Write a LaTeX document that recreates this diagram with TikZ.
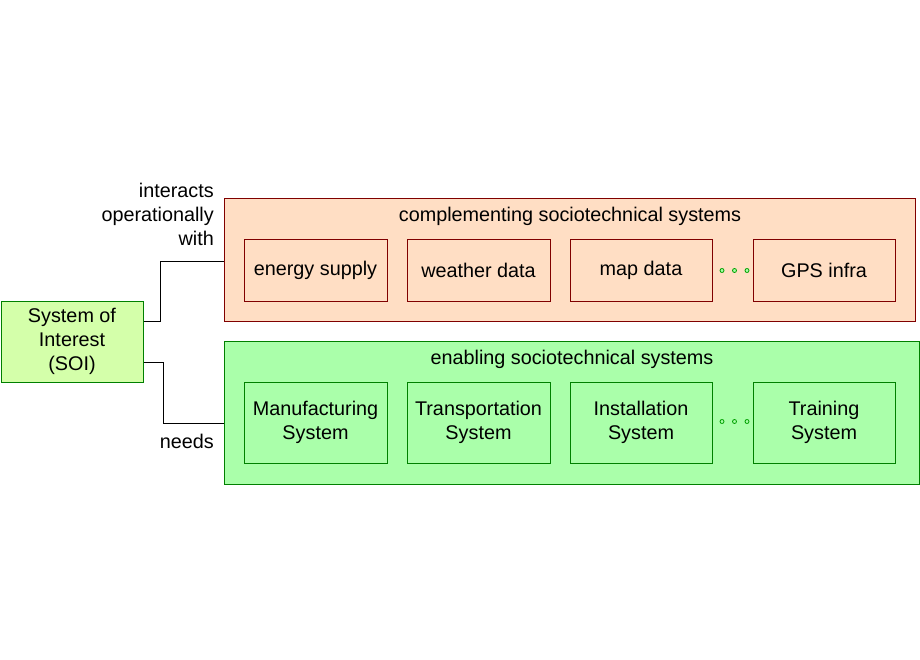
\documentclass[tikz,border=0pt]{standalone}
\usepackage{fontspec}
\setmainfont{Liberation Sans}
\definecolor{peach}{RGB}{255,222,196}
\definecolor{dred}{RGB}{128,0,0}
\definecolor{lgreen}{RGB}{170,255,170}
\definecolor{soigreen}{RGB}{212,255,170}
\definecolor{dgreen}{RGB}{0,128,0}
\definecolor{dotgreen}{RGB}{0,160,0}
\begin{document}
\begin{tikzpicture}[x=1pt,y=-1pt,
  every node/.style={font=\fontsize{19.8}{24}\selectfont, inner sep=0pt},
  cbox/.style={draw=dred, fill=peach, line width=1pt},
  ebox/.style={draw=dgreen, fill=lgreen, line width=1pt},
  sbox/.style={draw=dgreen, fill=soigreen, line width=1pt},
  conn/.style={draw=black, line width=1pt},
  dotc/.style={draw=dotgreen, fill=lgreen, line width=0.8pt}]
\useasboundingbox (0,0) rectangle (920,660);
% outer boxes
\draw[cbox] (224,199) rectangle (915,321);
\draw[ebox] (224,341) rectangle (919,484);
\node[anchor=base] (ctitle) at (570,222) {complementing sociotechnical systems};
\node[anchor=base] (etitle) at (572,364) {enabling sociotechnical systems};
% inner top
\node[cbox, minimum width=143pt, minimum height=61pt, align=center] (c1) at (315.5,270.5) {energy supply};
\node[cbox, minimum width=143pt, minimum height=61pt, align=center] (c2) at (478.5,270.5) {weather data};
\node[cbox, minimum width=142pt, minimum height=61pt, align=center] (c3) at (641,270.5) {map data};
\node[cbox, minimum width=142pt, minimum height=61pt, align=center] (c4) at (824,270.5) {GPS infra};
% inner bottom
\node[ebox, minimum width=143pt, minimum height=81pt, align=center] (e1) at (315.5,422.5) {Manufacturing\\System};
\node[ebox, minimum width=143pt, minimum height=81pt, align=center] (e2) at (478.5,422.5) {Transportation\\System};
\node[ebox, minimum width=142pt, minimum height=81pt, align=center] (e3) at (641,422.5) {Installation\\System};
\node[ebox, minimum width=142pt, minimum height=81pt, align=center] (e4) at (824,422.5) {Training\\System};
% dots
\foreach \xx in {722,734.5,747} {
  \draw[dotc] (\xx,270.5) circle (2pt);
  \draw[dotc] (\xx,421.5) circle (2pt);
}
% SOI
\node[sbox, minimum width=142pt, minimum height=81pt, align=center] (soi) at (72,341.5) {System of\\Interest\\(SOI)};
% connectors
\coordinate (ct) at (224,261);
\coordinate (cb) at (224,423);
\draw[conn] (soi.east |- 0,321) -- (160,321) -- (160,261) -- (ct);
\draw[conn] (soi.east |- 0,362) -- (163,362) -- (163,423) -- (cb);
% labels
\node[anchor=east, align=right] (lint) at (214,214) {interacts\\operationally\\with};
\node[anchor=base east] (lneed) at (214,448) {needs};
\end{tikzpicture}
\end{document}
